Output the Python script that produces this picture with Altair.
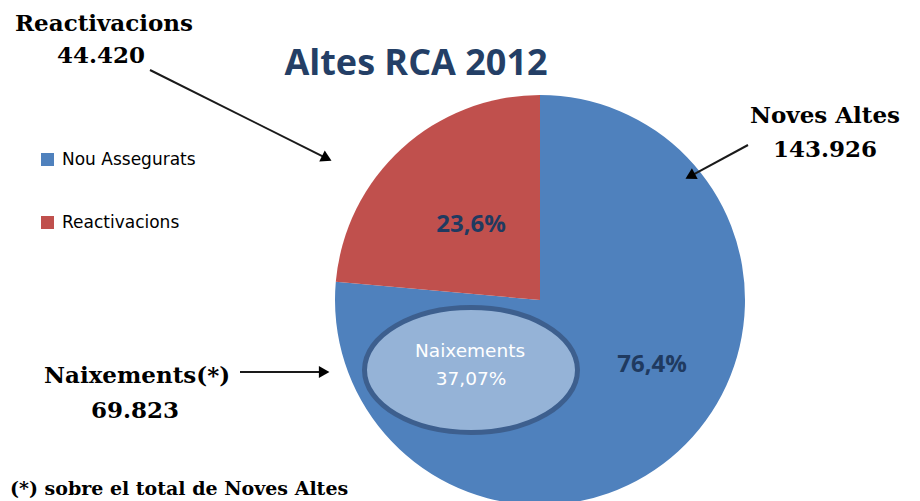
import math
import altair as alt
import pandas as pd

# ---------------- data ----------------
categories = ["Nou Assegurats", "Reactivacions"]
values = [143926, 44420]
pct_labels = ["76,4%", "23,6%"]
colors = ["#4f81bd", "#c0504d"]

naix_name = "Naixements"
naix_pct = "37,07%"

callout_names = ["Reactivacions", "Noves Altes", "Naixements(*)"]
callout_values = ["44.420", "143.926", "69.823"]
title_text = "Altes RCA 2012"
footnote = "(*) sobre el total de Noves Altes"

# ---------------- layout (page pixels) ----------------
M = 8
W, H = 904, 493
CX, CY, R = 540, 300, 205

xs = alt.Scale(domain=[M, M + W], nice=False, zero=False)
ys = alt.Scale(domain=[M, M + H], nice=False, zero=False, reverse=True)


def X(f):
    return alt.X(f, type="quantitative", scale=xs, axis=None)


def Y(f):
    return alt.Y(f, type="quantitative", scale=ys, axis=None)


pie_df = pd.DataFrame({"cat": categories, "value": values, "order": [0, 1]})

pie = alt.Chart(pie_df).mark_arc(radius=R, x=CX - M, y=CY - M).encode(
    theta=alt.Theta("value:Q", stack=True),
    order=alt.Order("order:Q"),
    color=alt.Color(
        "cat:N",
        scale=alt.Scale(domain=categories, range=colors),
        legend=alt.Legend(
            title=None,
            orient="none",
            legendX=31,
            legendY=143,
            symbolType="square",
            symbolSize=169,
            symbolStrokeWidth=0,
            labelFont="DejaVu Sans",
            labelFontSize=17,
            labelColor="#000000",
            labelOffset=6,
            rowPadding=45,
            padding=0,
        ),
    ),
)

# ellipse for Naixements
ell_df = pd.DataFrame({"x": [471], "y": [370]})
ellipse = alt.Chart(ell_df).mark_point(
    shape="M -1 0 A 1 0.587 0 1 0 1 0 A 1 0.587 0 1 0 -1 0 Z",
    size=213 ** 2,
    filled=True,
    fill="#95b3d7",
    stroke="#3d5f8e",
    strokeWidth=5,
    opacity=1,
    fillOpacity=1,
).encode(x=X("x"), y=Y("y"))

# percentage labels inside pie
pct_df = pd.DataFrame({"t": [pct_labels[1], pct_labels[0]], "x": [471, 652], "y": [232, 372]})
pct_text = alt.Chart(pct_df).mark_text(
    font="Open Sans", fontWeight="bold", fontSize=24, color="#1f3a60", baseline="alphabetic", align="center"
).encode(x=X("x"), y=Y("y"), text="t:N")

naix_df = pd.DataFrame({"t": [naix_name, naix_pct], "x": [470, 471], "y": [357, 385]})
naix_text = alt.Chart(naix_df).mark_text(
    font="DejaVu Sans", fontSize=18.5, color="#ffffff", baseline="alphabetic", align="center"
).encode(x=X("x"), y=Y("y"), text="t:N")

# callouts
call_df = pd.DataFrame({
    "t": [callout_names[0], callout_values[0], callout_names[1], callout_values[1], callout_names[2], callout_values[2]],
    "x": [104, 101, 825, 825, 137, 135],
    "y": [31, 63, 123, 157, 383, 418],
})
call_text = alt.Chart(call_df).mark_text(
    font="DejaVu Serif", fontWeight="bold", fontSize=23, color="#000000", baseline="alphabetic", align="center"
).encode(x=X("x"), y=Y("y"), text="t:N")

foot_df = pd.DataFrame({"t": [footnote], "x": [10], "y": [495]})
foot_text = alt.Chart(foot_df).mark_text(
    font="DejaVu Serif", fontWeight="bold", fontSize=19, color="#000000", baseline="alphabetic", align="left"
).encode(x=X("x"), y=Y("y"), text="t:N")

title_df = pd.DataFrame({"t": [title_text], "x": [416], "y": [75]})
title = alt.Chart(title_df).mark_text(
    font="Open Sans", fontWeight="bold", fontSize=36, color="#243f66", baseline="alphabetic", align="center"
).encode(x=X("x"), y=Y("y"), text="t:N")

# arrows
arrows = [((150, 70), (332, 161)), ((748, 145), (685, 179)), ((240, 372), (330, 372))]
HEAD = 13
rows, heads = [], []
for (x1, y1), (x2, y2) in arrows:
    dx, dy = x2 - x1, y2 - y1
    L = math.hypot(dx, dy)
    ux, uy = dx / L, dy / L
    rows.append({"x": x1, "y": y1, "x2": x2 - ux * HEAD * 0.8, "y2": y2 - uy * HEAD * 0.8})
    ang = math.degrees(math.atan2(dx, -dy)) % 360
    heads.append({"x": x2 - ux * HEAD * 0.45, "y": y2 - uy * HEAD * 0.45, "ang": ang})

lines = alt.Chart(pd.DataFrame(rows)).mark_rule(color="#1a1a1a", strokeWidth=2).encode(
    x=X("x"), y=Y("y"), x2="x2:Q", y2="y2:Q"
)
arrowheads = alt.Chart(pd.DataFrame(heads)).mark_point(
    shape="triangle-up", filled=True, size=150, color="#000000", opacity=1
).encode(x=X("x"), y=Y("y"), angle=alt.Angle("ang:Q", scale=None))

chart = alt.layer(
    pie, ellipse, pct_text, naix_text, call_text, foot_text, title, lines, arrowheads
).properties(
    width=W, height=H, padding=0, autosize=alt.AutoSizeParams(type="none"), background="#ffffff"
).configure_view(stroke=None)

chart.save("out.html", embed_options={"renderer": "svg", "actions": False})
